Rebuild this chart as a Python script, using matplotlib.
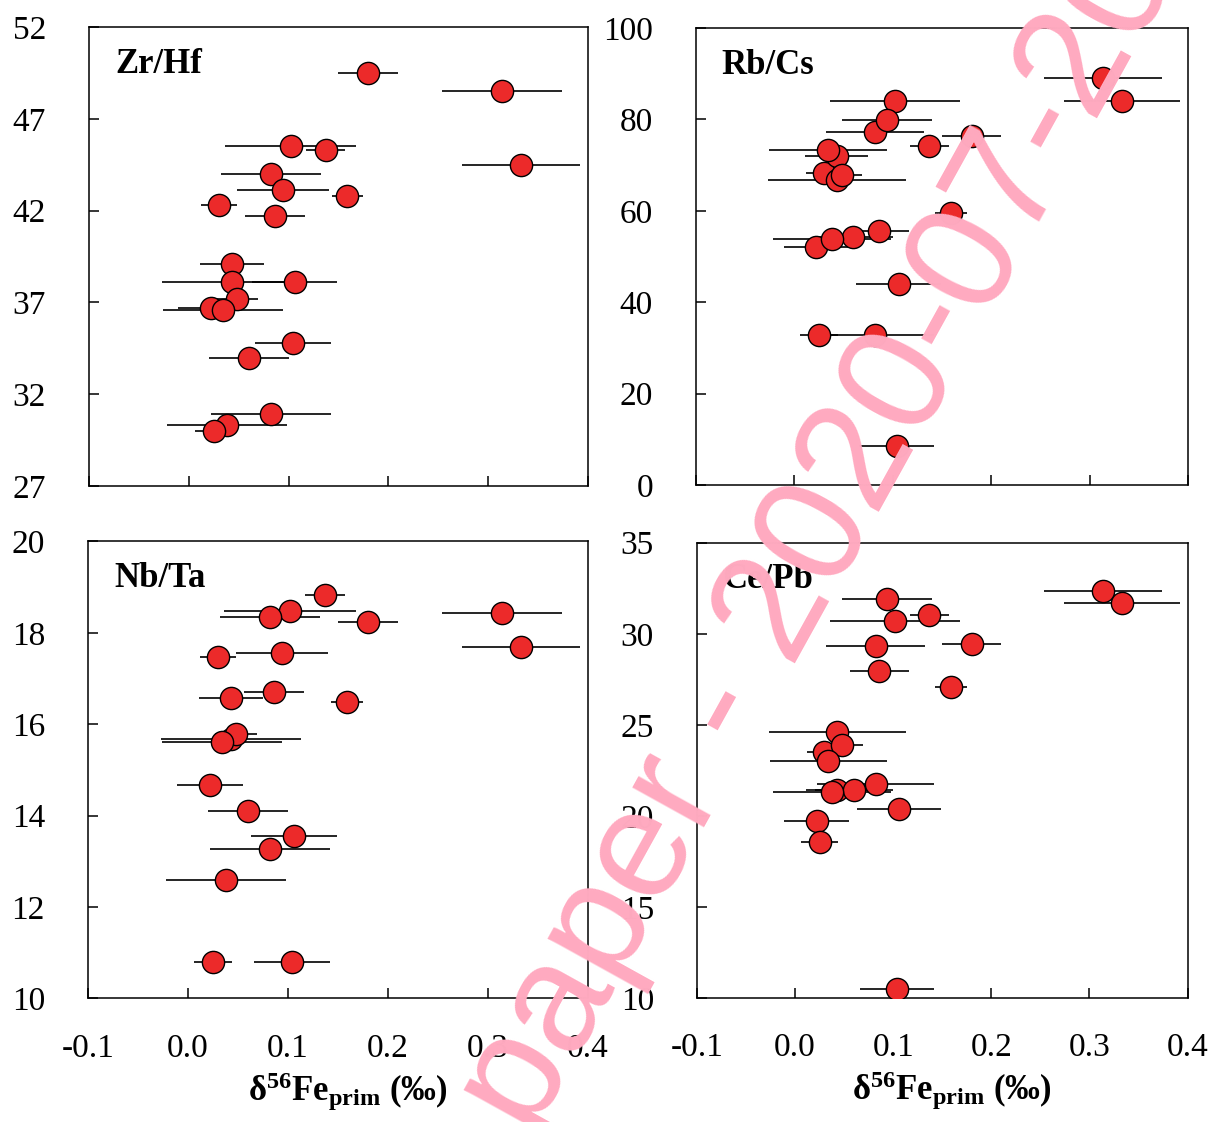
import matplotlib
matplotlib.use("Agg")
import matplotlib.pyplot as plt

plt.rcParams['font.family'] = ['Liberation Serif', 'DejaVu Serif']
plt.rcParams['axes.unicode_minus'] = False
plt.rcParams['mathtext.fontset'] = 'custom'
plt.rcParams['mathtext.rm'] = 'Liberation Serif:bold'
plt.rcParams['mathtext.it'] = 'Liberation Serif:bold:italic'
plt.rcParams['mathtext.bf'] = 'Liberation Serif:bold'

# samples A..U : delta56Fe_prim (permil) and 2SD
fe = [0.180, 0.314, 0.102, 0.137, 0.333, 0.082, 0.094, 0.159, 0.030, 0.086, 0.043,
      0.043, 0.106, 0.048, 0.022, 0.034, 0.104, 0.060, 0.082, 0.038, 0.025]
fe_err = [0.030, 0.060, 0.066, 0.020, 0.059, 0.050, 0.046, 0.016, 0.018, 0.030, 0.032,
          0.070, 0.043, 0.021, 0.033, 0.060, 0.038, 0.040, 0.060, 0.060, 0.019]

zr_hf = [49.5, 48.5, 45.5, 45.3, 44.5, 44.0, 43.1, 42.8, 42.3, 41.7, 39.1,
         38.1, 38.1, 37.2, 36.7, 36.6, 34.8, 34.0, 30.9, 30.3, 30.0]
rb_cs = [76.4, 89.0, 84.0, 74.1, 84.0, 77.2, 79.9, 59.5, 68.3, 55.6, 71.9,
         66.7, 44.0, 67.8, 52.0, 73.4, 8.6, 54.3, 32.8, 53.9, 32.8]
nb_ta = [18.24, 18.43, 18.47, 18.83, 17.70, 18.34, 17.56, 16.48, 17.48, 16.70, 16.58,
         15.68, 13.56, 15.78, 14.68, 15.62, 10.80, 14.10, 13.28, 12.60, 10.80]
ce_pb = [29.44, 32.36, 30.69, 31.02, 31.68, 29.33, 31.90, 27.06, 23.50, 27.97, 21.43,
         24.59, 20.39, 23.90, 19.72, 23.00, 10.48, 21.43, 21.76, 21.30, 18.57]

panel_names = ['Zr/Hf', 'Rb/Cs', 'Nb/Ta', 'Ce/Pb']
panel_values = [zr_hf, rb_cs, nb_ta, ce_pb]
y_ticks = [[27, 32, 37, 42, 47, 52],
           [0, 20, 40, 60, 80, 100],
           [10, 12, 14, 16, 18, 20],
           [10, 15, 20, 25, 30, 35]]
x_ticks = [-0.1, 0.0, 0.1, 0.2, 0.3, 0.4]
x_label = r'δ$^{\mathrm{56}}$Fe$_{\mathrm{prim}}$ (‰)'

positions = [[0.0727, 0.5668, 0.4077, 0.4091],
             [0.5686, 0.5677, 0.4020, 0.4073],
             [0.0719, 0.1101, 0.4085, 0.4073],
             [0.5694, 0.1105, 0.4008, 0.4058]]

red = '#EC2A2A'
fig = plt.figure(figsize=(12.24, 11.22), dpi=100)

for i, (name, vals, yt, pos) in enumerate(zip(panel_names, panel_values, y_ticks, positions)):
    ax = fig.add_axes(pos)
    ax.errorbar(fe, vals, xerr=fe_err, fmt='none', ecolor='black', elinewidth=1.2,
                capsize=0, zorder=2)
    ax.plot(fe, vals, 'o', ms=16, mfc=red, mec='black', mew=1.0, zorder=3)
    ax.set_xlim(x_ticks[0], x_ticks[-1])
    ax.set_ylim(yt[0], yt[-1])
    ax.set_xticks(x_ticks)
    ax.set_yticks(yt)
    ax.set_xticklabels(['%.1f' % v for v in x_ticks])
    ax.set_yticklabels([str(v) for v in yt])
    for s in ax.spines.values():
        s.set_linewidth(1.1)
    ax.tick_params(axis='both', direction='in', length=7.5, width=1.1, labelsize=24,
                   top=False, right=False)
    ax.tick_params(axis='y', pad=31)
    ax.tick_params(axis='x', pad=25)
    if i < 2:
        ax.tick_params(axis='x', labelbottom=False)
    else:
        ax.set_xlabel(x_label, fontsize=25, fontweight='bold')
        ax.xaxis.set_label_coords(0.52, -0.158)
    ax.text(0.052, 0.90, name, transform=ax.transAxes, fontsize=25, fontweight='bold',
            ha='left', va='baseline')

fig.text(820 / 1224, 1 - 536 / 1122, 'paper - 2020-07-20', rotation=61,
         rotation_mode='anchor', ha='center', va='center', fontsize=112,
         color='#FFAAC0', family='Liberation Sans', zorder=10)

fig.savefig('out.png', dpi=100)
